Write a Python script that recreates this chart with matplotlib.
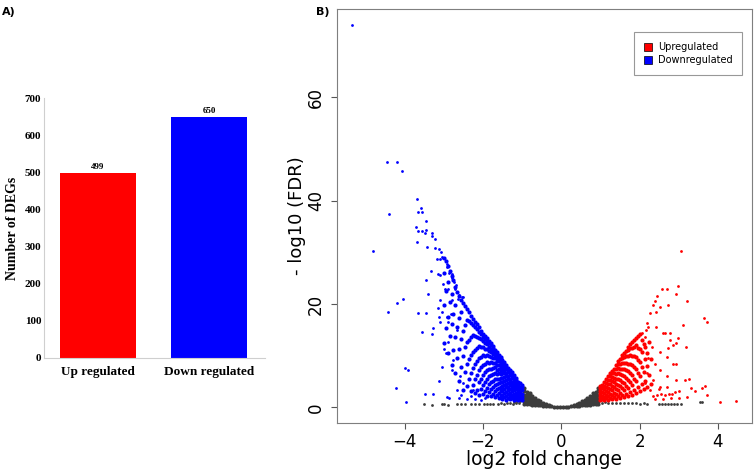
import numpy as np
import matplotlib.pyplot as plt
from matplotlib.patches import Patch

# panel A: number of DEGs
bar_labels = ['Up regulated', 'Down regulated']
bar_counts = [499, 650]

# panel B: volcano plot
# (x, [y values]) columns for the dense parts, plus single points
ns_cols = [
    (-0.95, [0.7, 1.3, 1.9, 2.5, 3.1, 3.7]),
    (-0.88, [0.65, 1.25, 1.85, 2.45, 3.05]),
    (-0.81, [0.6, 1.2, 1.8, 2.4, 2.8]),
    (-0.74, [0.55, 1.1, 1.7, 2.3]),
    (-0.67, [0.5, 1.0, 1.5, 1.9]),
    (-0.60, [0.45, 1.0, 1.5]),
    (-0.53, [0.4, 0.8, 1.2]),
    (-0.46, [0.35, 0.85]),
    (-0.39, [0.3, 0.6]),
    (-0.32, [0.25, 0.44]),
    (-0.25, [0.2]),
    (-0.18, [0.12]),
    (-0.11, [0.05]),
    (-0.04, [0.01]),
    (0.04, [0.01]),
    (0.11, [0.05]),
    (0.18, [0.12]),
    (0.25, [0.2]),
    (0.32, [0.25, 0.45]),
    (0.39, [0.3, 0.65]),
    (0.46, [0.35, 0.85]),
    (0.53, [0.4, 0.8, 1.2]),
    (0.60, [0.45, 1.0, 1.5]),
    (0.67, [0.5, 1.0, 1.5, 1.9]),
    (0.74, [0.55, 1.1, 1.7, 2.3]),
    (0.81, [0.6, 1.2, 1.8, 2.3, 2.8]),
    (0.88, [0.65, 1.25, 1.85, 2.45, 3.0]),
    (0.95, [0.7, 1.3, 1.9, 2.5, 3.1, 3.7]),
]
ns_extra = [
    (-1.05, 1.2), (-1.12, 1.25), (-1.2, 1.15), (-1.08, 0.8), (-1.15, 0.9),
    (-1.22, 0.75), (-1.3, 0.85), (-1.38, 0.9), (-1.45, 0.7), (-1.55, 0.8),
    (-1.62, 0.75), (-1.75, 0.7), (-1.82, 0.75), (-1.9, 0.65), (-1.98, 0.7),
    (-2.1, 0.6), (-2.2, 0.65), (-2.3, 0.6), (-2.45, 0.6), (-2.55, 0.65),
    (-2.65, 0.6), (-2.9, 0.55), (-3.0, 0.6), (-3.05, 0.6), (-3.3, 0.55),
    (-3.5, 0.7),
    (1.05, 0.9), (1.12, 1.0), (1.2, 0.85), (1.3, 0.95), (1.4, 0.9),
    (1.5, 0.85), (1.6, 0.9), (1.7, 0.8), (1.8, 0.85), (1.9, 0.8),
    (2.0, 0.75), (2.1, 0.8), (2.2, 0.75), (2.5, 0.7), (2.58, 0.7),
    (2.65, 0.7), (2.72, 0.7), (2.8, 0.7), (2.88, 0.7), (2.95, 0.7),
    (3.05, 0.7), (3.55, 1.05), (3.6, 1.0),
]

down_cols = [
    (-1.00, [1.5, 2.1, 2.7, 3.3, 3.9, 4.3]),
    (-1.05, [1.6, 2.2, 2.8, 3.4, 4.0, 4.7]),
    (-1.10, [1.4, 2.0, 2.6, 3.2, 3.8, 4.4, 5.0]),
    (-1.15, [1.7, 2.3, 2.9, 3.5, 4.1, 4.7, 5.3, 5.8]),
    (-1.20, [1.5, 2.1, 2.7, 3.4, 4.0, 4.6, 5.2, 5.8, 6.3]),
    (-1.25, [1.8, 2.5, 3.1, 3.8, 4.4, 5.0, 5.7, 6.3, 6.8]),
    (-1.30, [1.6, 2.2, 2.9, 3.6, 4.3, 5.0, 5.6, 6.2, 6.8, 7.2]),
    (-1.35, [1.9, 2.6, 3.3, 4.0, 4.8, 5.5, 6.1, 6.8, 7.3, 7.7]),
    (-1.40, [1.5, 2.3, 3.0, 3.9, 4.6, 5.3, 6.0, 6.7, 7.4, 7.9, 8.3]),
    (-1.45, [2.0, 2.8, 3.6, 4.4, 5.2, 5.9, 6.6, 7.3, 7.9, 8.4, 8.8]),
    (-1.50, [1.7, 2.5, 3.3, 4.2, 5.0, 5.8, 6.6, 7.4, 8.0, 8.6, 9.1]),
    (-1.55, [2.2, 3.1, 4.0, 4.9, 5.7, 6.5, 7.3, 8.1, 8.7, 9.3, 9.7]),
    (-1.60, [1.8, 2.8, 3.8, 4.7, 5.6, 6.6, 7.5, 8.3, 8.9, 9.5, 10.1]),
    (-1.65, [2.4, 3.5, 4.6, 5.5, 6.4, 7.3, 8.2, 9.0, 9.6, 10.2, 10.7]),
    (-1.70, [2.0, 3.2, 4.4, 5.6, 6.7, 7.8, 8.7, 9.5, 10.2, 10.8, 11.2]),
    (-1.75, [2.6, 3.9, 5.2, 6.4, 7.6, 8.6, 9.5, 10.3, 10.9, 11.5, 11.9]),
    (-1.80, [2.3, 3.6, 5.0, 6.3, 7.5, 8.8, 9.8, 10.7, 11.4, 12.0, 12.4]),
    (-1.85, [3.0, 4.5, 6.0, 7.4, 8.7, 10.0, 11.0, 11.8, 12.4, 12.9]),
    (-1.90, [2.2, 3.8, 5.6, 7.2, 8.8, 10.2, 11.3, 12.2, 12.9, 13.4]),
    (-1.95, [3.2, 4.9, 6.8, 8.5, 10.0, 11.4, 12.5, 13.3, 13.9]),
    (-2.00, [2.6, 4.4, 6.3, 8.2, 10.1, 11.7, 12.9, 13.7, 14.3]),
    (-2.05, [3.6, 5.6, 7.8, 9.8, 11.8, 13.2, 14.2, 14.8]),
    (-2.10, [2.4, 4.9, 7.3, 9.6, 11.9, 13.5, 14.7, 15.5]),
    (-2.15, [3.3, 6.2, 9.0, 11.5, 13.7, 15.1, 16.1]),
    (-2.20, [2.9, 5.5, 8.4, 11.2, 13.9, 15.5, 16.6]),
    (-2.25, [4.3, 7.6, 10.8, 14.0, 16.0, 17.2]),
    (-2.30, [3.1, 6.7, 10.2, 13.6, 16.4, 17.8]),
    (-2.35, [5.5, 9.4, 13.1, 16.8, 18.4]),
    (-2.40, [4.2, 8.5, 12.6, 17.0, 19.0]),
    (-2.45, [6.9, 11.8, 15.9, 19.6]),
    (-2.50, [3.4, 9.9, 14.8, 20.2]),
    (-2.55, [7.8, 13.2, 18.5, 20.8]),
    (-2.60, [5.1, 11.4, 17.3, 21.6]),
    (-2.65, [9.5, 15.6, 22.4]),
    (-2.70, [6.7, 13.7, 19.9, 23.3]),
    (-2.75, [11.2, 18.1, 24.6]),
    (-2.80, [8.3, 16.2, 22.0, 25.5]),
    (-2.85, [13.9, 20.4, 26.4]),
    (-2.90, [10.6, 17.6, 24.2, 27.3]),
    (-2.95, [15.3, 22.5, 28.3]),
    (-3.00, [12.4, 19.8, 26.0, 29.0]),
]
down_extra = [
    (-5.34, 74.1), (-4.45, 47.5), (-4.18, 47.5), (-4.07, 45.7), (-4.39, 37.4),
    (-3.68, 40.3), (-3.66, 37.9), (-3.56, 37.9), (-3.58, 38.6), (-3.45, 36.1),
    (-3.71, 34.9), (-3.65, 34.1), (-3.56, 34.1), (-3.44, 34.3), (-3.48, 33.7),
    (-3.31, 33.7), (-3.31, 33.2), (-3.21, 32.6), (-4.80, 30.3), (-3.69, 32.1),
    (-3.43, 31.1), (-3.22, 30.8), (-3.12, 30.6), (-3.08, 30.1), (-3.05, 29.1),
    (-3.18, 28.8), (-3.09, 28.8), (-3.01, 28.9), (-2.95, 28.3), (-2.92, 27.8),
    (-2.91, 27.2), (-2.84, 26.3), (-2.86, 26.1), (-2.80, 25.8), (-3.33, 26.4),
    (-3.14, 25.8), (-3.09, 25.6), (-3.45, 24.7), (-2.80, 25.0), (-2.74, 24.3),
    (-2.77, 24.7), (-3.01, 23.8), (-2.69, 23.7), (-3.39, 22.0), (-2.97, 22.9),
    (-2.90, 22.9), (-2.78, 22.0), (-2.71, 22.9), (-2.65, 22.4), (-2.60, 21.8),
    (-2.54, 21.3), (-2.50, 21.3), (-2.63, 20.9), (-2.57, 20.8), (-4.03, 21.0),
    (-4.20, 20.2), (-4.43, 18.4), (-3.66, 18.3), (-3.45, 18.2), (-3.56, 14.7),
    (-3.28, 15.4), (-3.29, 14.2), (-3.98, 7.7), (-3.91, 7.3), (-4.22, 3.8),
    (-3.96, 1.1), (-3.47, 2.7), (-3.27, 2.6), (-3.13, 5.1), (-2.98, 11.4),
    (-2.94, 10.6), (-2.92, 2.0), (-2.86, 1.9), (-3.14, 19.2), (-3.04, 18.5),
    (-3.12, 17.6), (-3.10, 16.6), (-2.92, 17.6), (-2.88, 16.6), (-2.82, 18.0),
    (-2.75, 9.2), (-2.58, 6.0), (-2.80, 7.3), (-2.41, 8.5), (-2.50, 4.7),
    (-2.67, 3.4), (-2.24, 3.4), (-3.05, 7.9), (-2.88, 12.7), (-2.67, 15.0),
    (-3.09, 20.8), (-2.80, 20.8), (-2.2, 1.6), (-2.4, 1.7), (-2.6, 1.8),
    (-2.3, 2.2), (-2.55, 2.4), (-1.95, 1.8), (-2.05, 1.5),
]

up_cols = [
    (1.00, [1.4, 2.0, 2.6, 3.2, 3.8, 4.2]),
    (1.05, [1.6, 2.3, 3.0, 3.7, 4.3]),
    (1.10, [1.5, 2.1, 2.8, 3.5, 4.2, 4.9]),
    (1.15, [1.8, 2.5, 3.2, 4.0, 4.8, 5.5]),
    (1.20, [1.5, 2.2, 3.0, 3.8, 4.6, 5.4, 6.1]),
    (1.25, [1.9, 2.7, 3.6, 4.5, 5.3, 6.0, 6.6]),
    (1.30, [1.6, 2.4, 3.3, 4.2, 5.1, 5.9, 6.6, 7.1]),
    (1.35, [2.0, 2.9, 3.9, 4.9, 5.8, 6.7, 7.5]),
    (1.40, [1.7, 2.6, 3.6, 4.6, 5.6, 6.5, 7.4, 8.2]),
    (1.45, [2.2, 3.3, 4.4, 5.5, 6.6, 7.6, 8.4, 8.9]),
    (1.50, [1.8, 2.9, 4.1, 5.3, 6.5, 7.5, 8.5, 9.4]),
    (1.55, [2.4, 3.7, 5.0, 6.3, 7.5, 8.7, 9.6, 10.1]),
    (1.60, [2.0, 3.3, 4.7, 6.1, 7.4, 8.7, 9.8, 10.6]),
    (1.65, [2.7, 4.2, 5.8, 7.2, 8.6, 9.9, 11.0]),
    (1.70, [2.2, 3.8, 5.4, 7.0, 8.5, 10.0, 11.2, 11.7]),
    (1.75, [3.0, 4.9, 6.7, 8.4, 10.1, 11.5, 12.2]),
    (1.80, [2.5, 4.4, 6.3, 8.2, 10.0, 11.6, 12.6]),
    (1.85, [3.4, 5.6, 7.8, 9.9, 11.8, 13.0]),
    (1.90, [2.8, 5.1, 7.4, 9.7, 12.0, 13.5]),
    (1.95, [4.0, 6.7, 9.2, 11.6, 13.9]),
    (2.00, [3.1, 6.0, 8.8, 11.4, 14.2]),
    (2.05, [4.6, 7.9, 10.7, 13.0]),
    (2.10, [3.5, 6.9, 12.2]),
    (2.15, [5.2, 9.4, 11.7]),
    (2.20, [4.0, 8.0, 10.5]),
    (2.25, [6.3, 12.6]),
    (2.30, [4.6, 9.3]),
]
up_extra = [
    (3.05, 30.3), (2.56, 22.9), (2.69, 23.0), (2.99, 23.5), (2.94, 21.9),
    (2.45, 21.6), (3.20, 20.6), (2.39, 20.6), (2.73, 19.8), (2.52, 19.5),
    (2.35, 19.8), (2.26, 18.2), (2.43, 18.5), (3.65, 17.4), (3.73, 16.6),
    (3.11, 16.0), (2.18, 16.3), (2.22, 15.6), (2.16, 15.0), (2.05, 14.4),
    (2.14, 13.7), (2.65, 14.4), (2.77, 14.4), (2.99, 13.4), (2.86, 12.1),
    (2.73, 11.5), (3.18, 11.8), (2.94, 8.5), (3.16, 5.3), (3.26, 5.6),
    (3.41, 3.2), (3.58, 3.7), (3.68, 4.2), (3.71, 2.4), (4.05, 1.1),
    (4.46, 1.3), (2.82, 2.7), (2.43, 15.6), (2.60, 14.4), (2.77, 13.1),
    (2.94, 12.4), (2.31, 11.8), (2.52, 10.8), (2.69, 9.8), (2.22, 9.5),
    (2.39, 8.5), (2.86, 8.5), (2.52, 7.3), (2.18, 6.6), (2.69, 6.0),
    (2.94, 5.3), (2.35, 5.3), (2.14, 4.7), (2.52, 4.0), (2.26, 3.4),
    (2.35, 2.2), (2.45, 2.4), (2.55, 2.6), (2.65, 2.5), (2.75, 2.7),
    (2.9, 3.0), (3.0, 3.1), (2.4, 1.6), (2.6, 1.7), (2.8, 1.8),
    (3.0, 1.9), (3.2, 2.0), (2.5, 3.5), (2.7, 3.9), (3.3, 3.7),
]


def expand(cols):
    xs, ys = [], []
    for x, col in cols:
        for y in col:
            xs.append(x)
            ys.append(y)
    return np.array(xs), np.array(ys)


def split(pts):
    return np.array([p[0] for p in pts]), np.array([p[1] for p in pts])


fig = plt.figure(figsize=(7.54, 4.76), dpi=100)

# ---- panel A ----
serif = 'Liberation Serif'
ax1 = fig.add_axes([0.0584, 0.248, 0.2925, 0.546])
bars = ax1.bar([0, 1], bar_counts, width=0.685, color=['#ff0000', '#0000ff'])
for b, v in zip(bars, bar_counts):
    ax1.text(b.get_x() + b.get_width() / 2, v + 5, str(v), ha='center', va='bottom',
             fontsize=6.5, fontweight='bold', family=serif)
ax1.set_xlim(-0.486, 1.5)
ax1.set_ylim(0, 700)
ax1.set_yticks(range(0, 701, 100))
ax1.set_xticks([0, 1])
ax1.set_xticklabels(bar_labels, fontsize=9.5, fontweight='bold', family=serif)
for lab in ax1.get_yticklabels():
    lab.set_fontsize(8)
    lab.set_fontweight('bold')
    lab.set_family(serif)
ax1.tick_params(axis='y', length=0, pad=2)
ax1.tick_params(axis='x', length=0, pad=6)
ax1.set_ylabel('Number of DEGs', fontsize=10, fontweight='bold', family=serif, labelpad=4)
for s in ['top', 'right']:
    ax1.spines[s].set_visible(False)
for s in ['left', 'bottom']:
    ax1.spines[s].set_color('#cfcfcf')
fig.text(0.003, 0.985, 'A)', fontsize=8, fontweight='bold', va='top')

# ---- panel B ----
ax2 = fig.add_axes([0.4466, 0.112, 0.5503, 0.869])
grey, blue, red = '#3c3c3c', '#0000ff', '#ff0000'
for cols, extra, c in [(ns_cols, ns_extra, grey),
                       (down_cols, down_extra, blue),
                       (up_cols, up_extra, red)]:
    x, y = expand(cols)
    ax2.scatter(x, y, s=9, color=c, linewidths=0)
    x, y = split(extra)
    ax2.scatter(x, y, s=4, color=c, linewidths=0)
ax2.set_xlim(-5.73, 4.86)
ax2.set_ylim(-2.94, 77.1)
ax2.set_xticks([-4, -2, 0, 2, 4])
ax2.set_yticks([0, 20, 40, 60])
ax2.tick_params(labelsize=12, length=4.5, color='#555555')
ax2.tick_params(axis='x', pad=3)
ax2.tick_params(axis='y', pad=4)
for lab in ax2.get_yticklabels():
    lab.set_rotation(90)
    lab.set_va('center')
for s in ax2.spines.values():
    s.set_color('#7f7f7f')
ax2.set_xlabel('log2 fold change', fontsize=13.5)
ax2.set_ylabel('- log10 (FDR)', fontsize=13)
ax2.xaxis.set_label_coords(0.5, -0.065)
ax2.yaxis.set_label_coords(-0.075, 0.5)
handles = [Patch(facecolor=red, edgecolor='black', linewidth=0.5, label='Upregulated'),
           Patch(facecolor=blue, edgecolor='black', linewidth=0.5, label='Downregulated')]
leg = ax2.legend(handles=handles, loc='upper left', bbox_to_anchor=(0.716, 0.944),
                 borderaxespad=0, fancybox=False, fontsize=7, handlelength=0.9,
                 handleheight=0.9, handletextpad=0.6, labelspacing=0.35, borderpad=1.0)
leg.get_frame().set_edgecolor('#7f7f7f')
leg.get_frame().set_linewidth(0.8)
fig.text(0.419, 0.985, 'B)', fontsize=8, fontweight='bold', va='top')

fig.savefig('out.png', dpi=100)
